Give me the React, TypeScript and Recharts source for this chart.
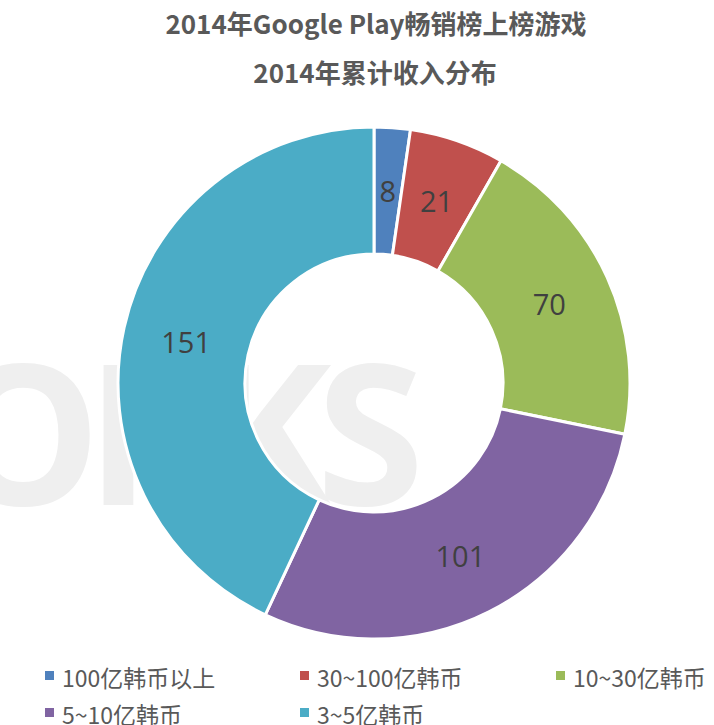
import { PieChart, Pie, Cell, Legend } from "recharts";

const categories = ["100亿韩币以上", "30~100亿韩币", "10~30亿韩币", "5~10亿韩币", "3~5亿韩币"];
const counts = [8, 21, 70, 101, 151];
const colors = ["#4f81bd", "#c0504d", "#9bbb59", "#8064a2", "#4bacc6"];

const data = categories.map((name, i) => ({ name, value: counts[i] }));

const FONT = '"Noto Sans CJK SC", "Noto Sans", sans-serif';
const RAD = Math.PI / 180;

const SliceLabel = (props: any) => {
  const { cx, cy, midAngle, innerRadius, outerRadius, value } = props;
  const r = (innerRadius + outerRadius) / 2;
  const x = cx + r * Math.cos(-midAngle * RAD);
  const y = cy + r * Math.sin(-midAngle * RAD);
  return (
    <text
      x={x}
      y={y}
      textAnchor="middle"
      dominantBaseline="central"
      fill="#404040"
      fontSize={29}
      fontFamily='"Open Sans", "Noto Sans", sans-serif'
    >
      {value}
    </text>
  );
};

const legendPos = [
  { x: 45, y: 676 },
  { x: 300, y: 676 },
  { x: 556, y: 676 },
  { x: 45, y: 713 },
  { x: 300, y: 713 },
];

const LegendContent = () => (
  <svg width={714} height={725}>
    {categories.map((c, i) => (
      <g key={c}>
        <rect x={legendPos[i].x} y={legendPos[i].y - 5} width={9} height={9} fill={colors[i]} />
        <text
          x={legendPos[i].x + 17}
          y={legendPos[i].y + 1}
          dominantBaseline="central"
          fontSize={23}
          fill="#595959"
          fontFamily={FONT}
        >
          {c}
        </text>
      </g>
    ))}
  </svg>
);

export default function App() {
  return (
    <div style={{ position: "absolute", left: 0, top: 0, width: 714, height: 725, background: "#fff" }}>
      <svg width={714} height={725} style={{ position: "absolute", left: 0, top: 0 }}>
        {/* watermark */}
        <text
          x={-55}
          y={505}
          fontSize={196}
          fontWeight="bold"
          fill="#efefef"
          fontFamily='"Open Sans", sans-serif'
          letterSpacing={-15}
        >
          OKKS
        </text>
        <text x={376} y={34} textAnchor="middle" fontSize={26} fontWeight="bold" fill="#595959" fontFamily={FONT}>
          2014年Google Play畅销榜上榜游戏
        </text>
        <text x={375} y={83} textAnchor="middle" fontSize={26} fontWeight="bold" fill="#595959" fontFamily={FONT}>
          2014年累计收入分布
        </text>
      </svg>
      <PieChart width={714} height={725} style={{ position: "absolute", left: 0, top: 0 }}>
        <Pie
          data={data}
          dataKey="value"
          nameKey="name"
          cx={369}
          cy={378}
          innerRadius={129}
          outerRadius={256}
          startAngle={90}
          endAngle={-270}
          stroke="#fff"
          strokeWidth={3}
          label={SliceLabel}
          labelLine={false}
          isAnimationActive={false}
        >
          {data.map((d, i) => (
            <Cell key={d.name} fill={colors[i]} />
          ))}
        </Pie>
        <Legend
          content={LegendContent}
          wrapperStyle={{ position: "absolute", left: 0, top: 0, width: 714, height: 725, pointerEvents: "none" }}
        />
      </PieChart>
    </div>
  );
}
